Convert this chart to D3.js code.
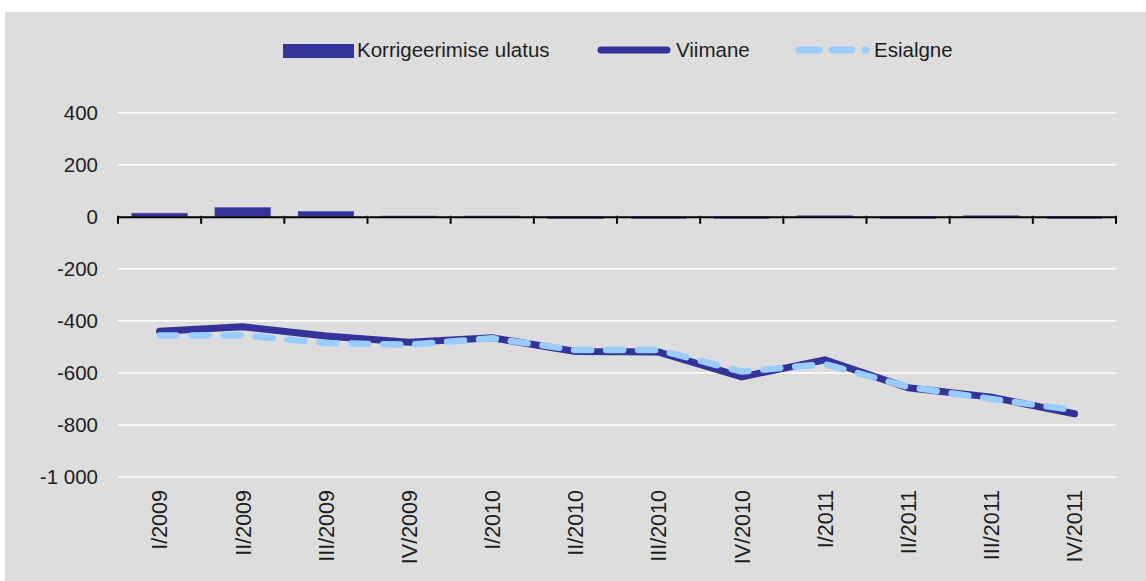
<!DOCTYPE html>
<html><head><meta charset="utf-8">
<script src="https://cdn.jsdelivr.net/npm/d3@7"></script>
<style>body{margin:0;background:#fff}svg{display:block}text{font-family:"Liberation Sans",Arial,Helvetica,sans-serif;fill:#1e1e1e}</style>
</head><body>
<svg id="chart" width="1146" height="581"></svg>
<script>
const categories = ["I/2009","II/2009","III/2009","IV/2009","I/2010","II/2010","III/2010","IV/2010","I/2011","II/2011","III/2011","IV/2011"];
const korrigeerimine = [14, 36, 21, 3, 3, -7, -7, -7, 4, -7, 4, -7];
const viimane = [-440, -423, -458, -482, -465, -518, -520, -615, -550, -657, -693, -757];
const esialgne = [-456, -456, -485, -492, -467, -512, -512, -595, -566, -654, -700, -743];
const yTicks = [400, 200, 0, -200, -400, -600, -800, -1000];
const seriesNames = ["Korrigeerimise ulatus", "Viimane", "Esialgne"];

const dark = "#333399", light = "#99ccff";
const svg = d3.select("#chart");
svg.append("rect").attr("x",5).attr("y",12).attr("width",1141).attr("height",569).attr("fill","#dddddd");

const x0 = 118, x1 = 1116;
const x = d3.scaleBand().domain(categories).range([x0, x1]).paddingInner(0).paddingOuter(0);
const y = d3.scaleLinear().domain([-1000, 400]).range([477, 112.7]);
const loc = d3.formatLocale({decimal:",", thousands:" ", grouping:[3], currency:["",""], minus:"-"});
const fmt = loc.format(",");

// gridlines
svg.append("g").selectAll("line").data(yTicks.filter(d => d !== 0)).join("line")
  .attr("x1", x0).attr("x2", x1).attr("y1", d => y(d)).attr("y2", d => y(d))
  .attr("stroke", "#fff").attr("stroke-width", 1.5);

// y labels
svg.append("g").selectAll("text").data(yTicks).join("text")
  .attr("x", 98).attr("y", d => y(d)).attr("dy", "0.36em").attr("text-anchor", "end")
  .style("font-size", "20.5px").text(d => fmt(d));

// bars
const bw = x.bandwidth() * 0.67;
svg.append("g").selectAll("rect").data(categories).join("rect")
  .attr("x", d => x(d) + (x.bandwidth() - bw) / 2)
  .attr("width", bw)
  .attr("y", (d, i) => y(Math.max(0, korrigeerimine[i])))
  .attr("height", (d, i) => Math.abs(y(korrigeerimine[i]) - y(0)))
  .attr("fill", dark).attr("stroke", "#6666bb").attr("stroke-width", 0.6);

// zero axis with ticks
const axisG = svg.append("g").attr("transform", `translate(0,${y(0)})`);
axisG.call(d3.axisBottom(x).tickSize(0).tickFormat("").tickSizeOuter(0));
axisG.selectAll(".tick").remove();
axisG.select(".domain").attr("stroke", "#000").attr("stroke-width", 2);
const bounds = categories.map(c => x(c)).concat([x1]);
axisG.selectAll("line.b").data(bounds).join("line").attr("class","b")
  .attr("x1", d => d).attr("x2", d => d).attr("y1", -1).attr("y2", 7)
  .attr("stroke", "#000").attr("stroke-width", 2);

// x labels
svg.append("g").selectAll("text").data(categories).join("text")
  .attr("transform", d => `translate(${x(d) + x.bandwidth() / 2},490) rotate(-90)`)
  .attr("dy", "0.36em").attr("text-anchor", "end").style("font-size", "21.5px").text(d => d);

// lines
const cx = d => x(d) + x.bandwidth() / 2;
const lineGen = arr => d3.line().x((d, i) => cx(categories[i])).y((d, i) => y(arr[i]))(categories);
svg.append("path").attr("d", lineGen(viimane)).attr("fill", "none").attr("stroke", dark)
  .attr("stroke-width", 7).attr("stroke-linecap", "round").attr("stroke-linejoin", "miter");
svg.append("path").attr("d", lineGen(esialgne)).attr("fill", "none").attr("stroke", light)
  .attr("stroke-width", 6.5).attr("stroke-linecap", "round").attr("stroke-linejoin", "round")
  .attr("stroke-dasharray", "17,15");

// legend
const lg = svg.append("g");
lg.append("rect").attr("x", 283).attr("y", 44).attr("width", 71).attr("height", 14).attr("fill", dark);
lg.append("text").attr("x", 357).attr("y", 50).attr("dy", "0.36em").style("font-size", "20.5px").text(seriesNames[0]);
lg.append("line").attr("x1", 601).attr("x2", 667).attr("y1", 50).attr("y2", 50)
  .attr("stroke", dark).attr("stroke-width", 7).attr("stroke-linecap", "round");
lg.append("text").attr("x", 676).attr("y", 50).attr("dy", "0.36em").style("font-size", "20.5px").text(seriesNames[1]);
lg.append("line").attr("x1", 799).attr("x2", 866).attr("y1", 50).attr("y2", 50)
  .attr("stroke", light).attr("stroke-width", 7).attr("stroke-linecap", "round").attr("stroke-dasharray", "20,13");
lg.append("text").attr("x", 874).attr("y", 50).attr("dy", "0.36em").style("font-size", "20.5px").text(seriesNames[2]);
</script>
</body></html>
